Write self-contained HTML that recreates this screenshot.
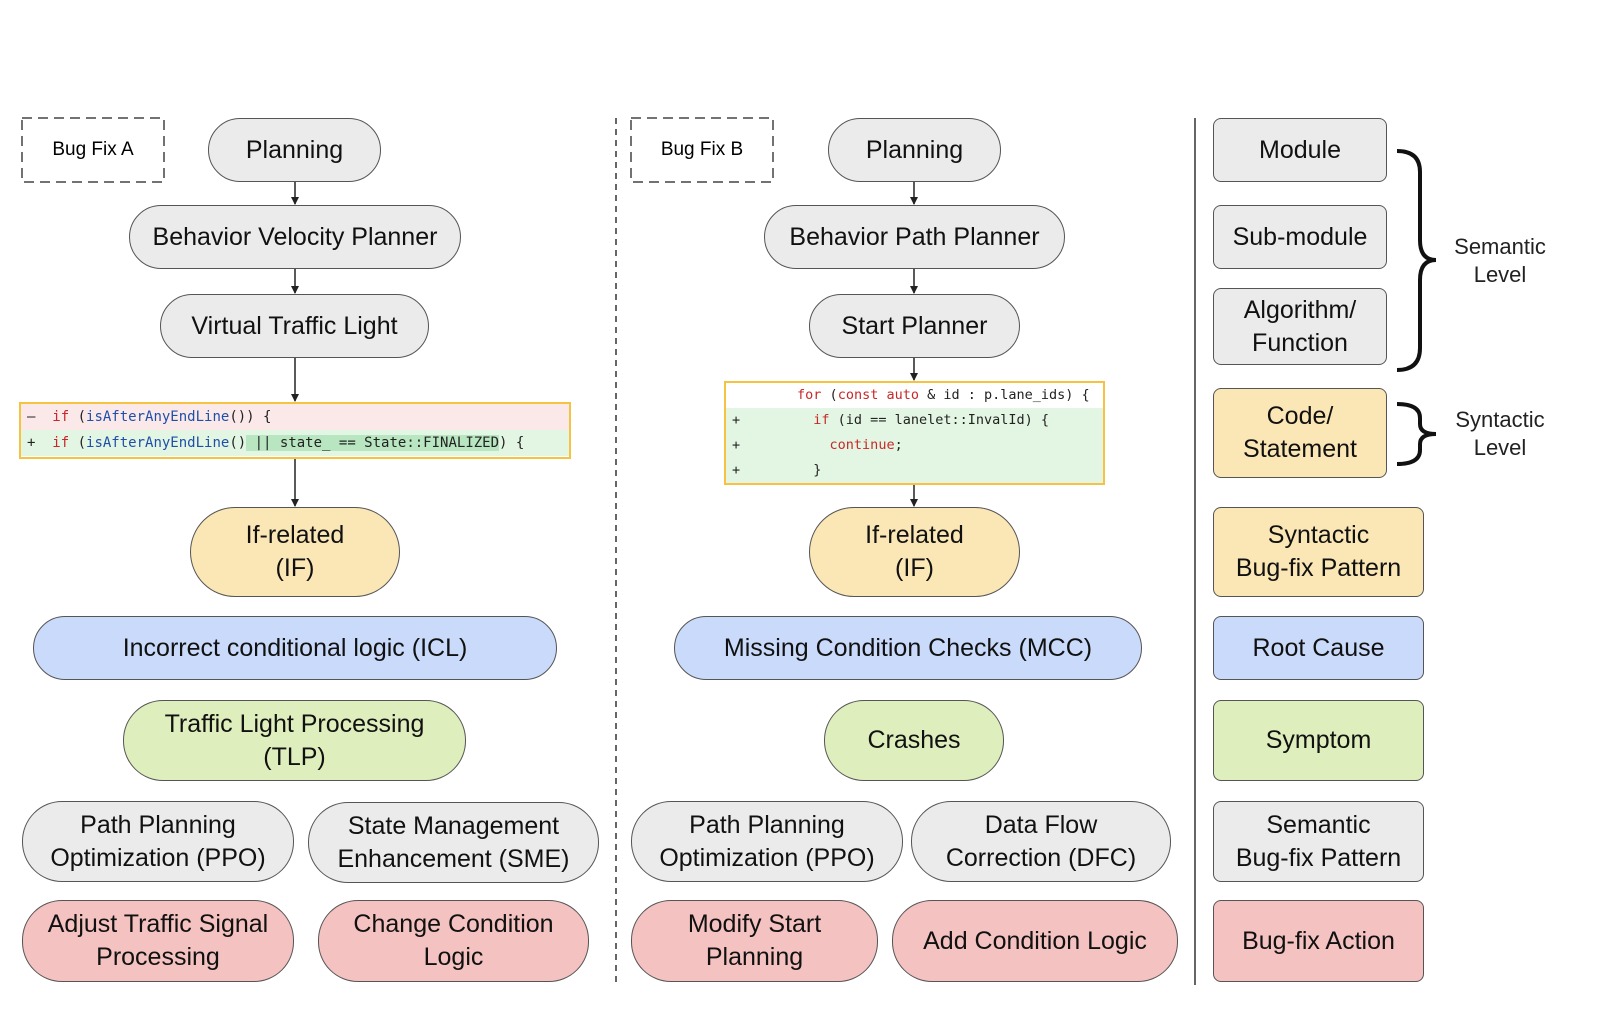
<!DOCTYPE html>
<html><head><meta charset="utf-8"><style>
body{margin:0;width:1606px;height:1024px;background:#fff;position:relative;overflow:hidden;font-family:"Liberation Sans","Noto Sans CJK SC",sans-serif;}
.n{position:absolute;box-sizing:border-box;border:1.5px solid #555;display:flex;align-items:center;justify-content:center;text-align:center;font-size:25px;line-height:33px;color:#111;border-radius:40px;}
.g{background:#ebebeb}.y{background:#fbe7b5}.b{background:#c9dafa}.gr{background:#dfeebd}.r{background:#f4c2c0}
.sq{border-radius:8px}
.d{position:absolute;box-sizing:border-box;display:flex;align-items:center;justify-content:center;font-size:19px}
.code{position:absolute;box-sizing:border-box;border:2px solid #f5c242;font-family:"DejaVu Sans Mono","Liberation Mono",monospace;font-size:14px;color:#222}
.code div{height:26px;line-height:26px;white-space:pre;padding-left:6px}
.k{color:#c82829}.f{color:#1f4fa8}
.lab{position:absolute;font-size:22px;text-align:center;line-height:28px;color:#222}
</style></head><body>
<svg width="1606" height="1024" style="position:absolute;left:0;top:0">
<defs><marker id="a" markerWidth="8" markerHeight="8" refX="7" refY="4" orient="auto" markerUnits="userSpaceOnUse"><path d="M0,0 L8,4 L0,8z" fill="#222"/></marker></defs>
<g stroke="#222" stroke-width="1.5" marker-end="url(#a)">
<line x1="295" y1="182" x2="295" y2="204"/><line x1="295" y1="269" x2="295" y2="293"/><line x1="295" y1="358" x2="295" y2="401"/><line x1="295" y1="459" x2="295" y2="506"/>
<line x1="914" y1="182" x2="914" y2="204"/><line x1="914" y1="269" x2="914" y2="293"/><line x1="914" y1="358" x2="914" y2="380"/><line x1="914" y1="485" x2="914" y2="506"/>
</g>
<g fill="none" stroke="#444" stroke-width="1.5" stroke-dasharray="10,6">
<rect x="22" y="118" width="142" height="64"/><rect x="631" y="118" width="142" height="64"/>
</g>
<line x1="616" y1="118" x2="616" y2="985" stroke="#333" stroke-width="1.5" stroke-dasharray="6,5"/>
<line x1="1195" y1="118" x2="1195" y2="985" stroke="#333" stroke-width="1.5"/>
<g fill="none" stroke="#111" stroke-width="4">
<path d="M1397,151 Q1420,151 1420,172 L1420,240 Q1420,260 1436,260 Q1420,260 1420,280 L1420,348 Q1420,370 1397,370"/>
<path d="M1397,404 Q1420,404 1420,418 L1420,424 Q1420,434 1436,434 Q1420,434 1420,444 L1420,450 Q1420,464 1397,464"/>
</g>
</svg>
<div class="d" style="left:22px;top:118px;width:142px;height:64px">Bug Fix A</div>
<div class="n g" style="left:208px;top:118px;width:173px;height:64px">Planning</div>
<div class="n g" style="left:129px;top:205px;width:332px;height:64px">Behavior Velocity Planner</div>
<div class="n g" style="left:160px;top:294px;width:269px;height:64px">Virtual Traffic Light</div>
<div class="code" style="left:19px;top:402px;width:552px;height:57px">
<div style="background:#fbe9e9">–  <span class="k">if</span> (<span class="f">isAfterAnyEndLine</span>()) {</div>
<div style="background:#e3f6e3">+  <span class="k">if</span> (<span class="f">isAfterAnyEndLine</span>()<span style="background:#b8e6c0"> || state_ == State::FINALIZED</span>) {</div>
</div>
<div class="n y" style="left:190px;top:507px;width:210px;height:90px;border-radius:50px">If-related<br>(IF)</div>
<div class="n b" style="left:33px;top:616px;width:524px;height:64px">Incorrect conditional logic (ICL)</div>
<div class="n gr" style="left:123px;top:700px;width:343px;height:81px">Traffic Light Processing<br>(TLP)</div>
<div class="n g" style="left:22px;top:801px;width:272px;height:81px">Path Planning<br>Optimization (PPO)</div>
<div class="n g" style="left:308px;top:802px;width:291px;height:81px">State Management<br>Enhancement (SME)</div>
<div class="n r" style="left:22px;top:900px;width:272px;height:82px">Adjust Traffic Signal<br>Processing</div>
<div class="n r" style="left:318px;top:900px;width:271px;height:82px">Change Condition<br>Logic</div>

<div class="d" style="left:631px;top:118px;width:142px;height:64px">Bug Fix B</div>
<div class="n g" style="left:828px;top:118px;width:173px;height:64px">Planning</div>
<div class="n g" style="left:764px;top:205px;width:301px;height:64px">Behavior Path Planner</div>
<div class="n g" style="left:809px;top:294px;width:211px;height:64px">Start Planner</div>
<div class="code" style="left:724px;top:381px;width:381px;height:104px;font-size:13.5px">
<div style="background:#fff;height:25px;line-height:25px">        <span class="k">for</span> (<span class="k">const auto</span> &amp; id : p.lane_ids) {</div>
<div style="background:#e3f6e3;height:25px;line-height:25px">+         <span class="k">if</span> (id == lanelet::InvalId) {</div>
<div style="background:#e3f6e3;height:25px;line-height:25px">+           <span class="k">continue</span>;</div>
<div style="background:#e3f6e3;height:25px;line-height:25px">+         }</div>
</div>
<div class="n y" style="left:809px;top:507px;width:211px;height:90px;border-radius:50px">If-related<br>(IF)</div>
<div class="n b" style="left:674px;top:616px;width:468px;height:64px">Missing Condition Checks (MCC)</div>
<div class="n gr" style="left:824px;top:700px;width:180px;height:81px">Crashes</div>
<div class="n g" style="left:631px;top:801px;width:272px;height:81px">Path Planning<br>Optimization (PPO)</div>
<div class="n g" style="left:911px;top:801px;width:260px;height:81px">Data Flow<br>Correction (DFC)</div>
<div class="n r" style="left:631px;top:900px;width:247px;height:82px">Modify Start<br>Planning</div>
<div class="n r" style="left:892px;top:900px;width:286px;height:82px">Add Condition Logic</div>

<div class="n g sq" style="left:1213px;top:118px;width:174px;height:64px">Module</div>
<div class="n g sq" style="left:1213px;top:205px;width:174px;height:64px">Sub-module</div>
<div class="n g sq" style="left:1213px;top:288px;width:174px;height:77px">Algorithm/<br>Function</div>
<div class="n y sq" style="left:1213px;top:388px;width:174px;height:90px">Code/<br>Statement</div>
<div class="n y sq" style="left:1213px;top:507px;width:211px;height:90px">Syntactic<br>Bug-fix Pattern</div>
<div class="n b sq" style="left:1213px;top:616px;width:211px;height:64px">Root Cause</div>
<div class="n gr sq" style="left:1213px;top:700px;width:211px;height:81px">Symptom</div>
<div class="n g sq" style="left:1213px;top:801px;width:211px;height:81px">Semantic<br>Bug-fix Pattern</div>
<div class="n r sq" style="left:1213px;top:900px;width:211px;height:82px">Bug-fix Action</div>
<div class="lab" style="left:1445px;top:233px;width:110px">Semantic<br>Level</div>
<div class="lab" style="left:1445px;top:406px;width:110px">Syntactic<br>Level</div>
</body></html>
